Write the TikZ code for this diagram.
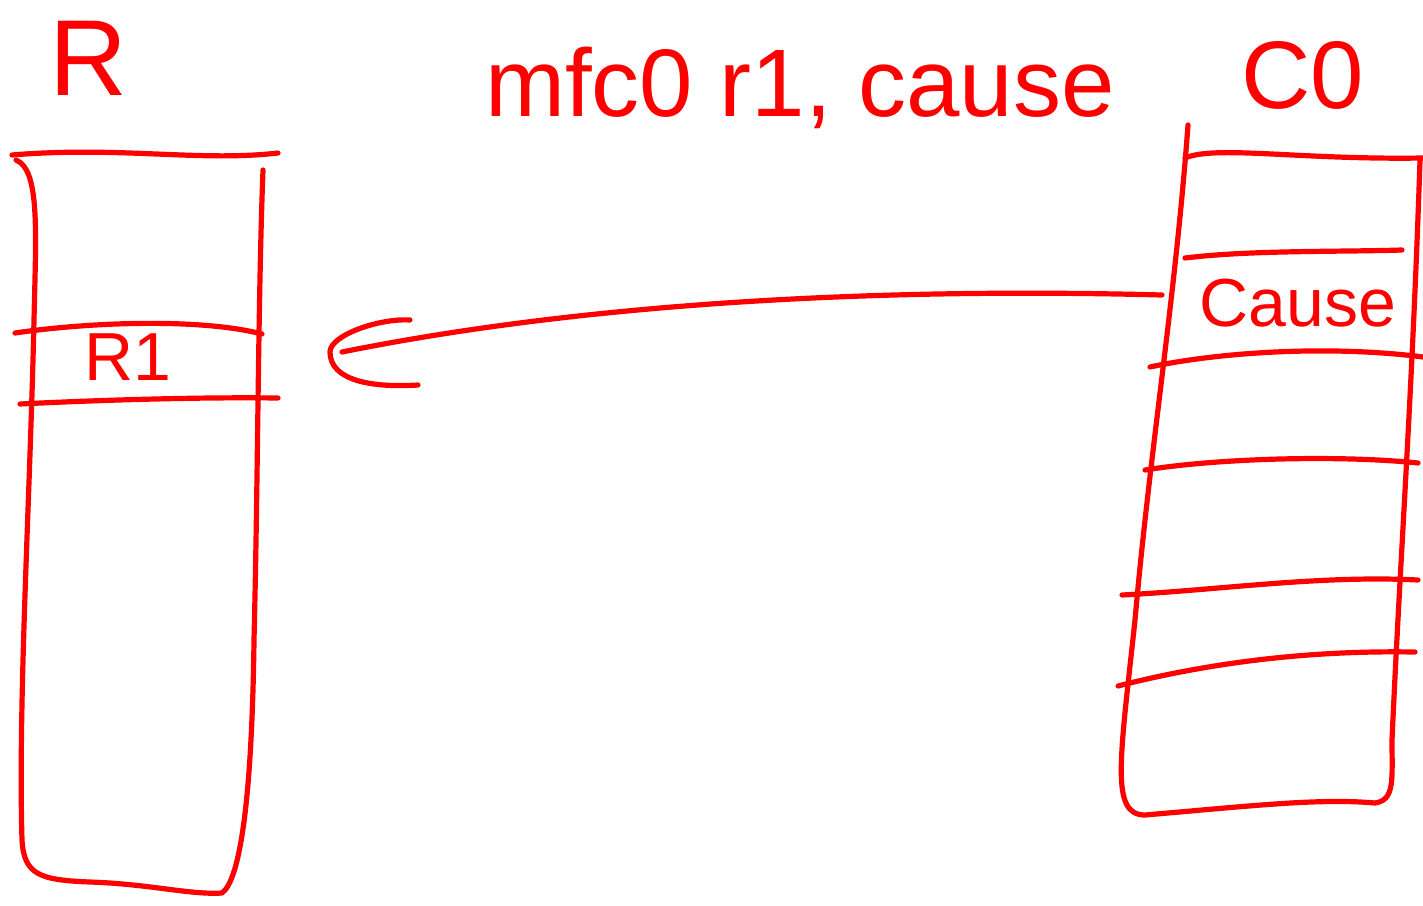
\documentclass[tikz,border=0pt]{standalone}
\usepackage{fontspec}
\setmainfont{Liberation Sans}
\usetikzlibrary{arrows.meta}
\definecolor{ink}{RGB}{255,0,0}
\begin{document}
\begin{tikzpicture}[x=0.5pt,y=-0.5pt,
  pen/.style={draw=ink,line width=2.6pt,line cap=round,line join=round},
  label/.style={text=ink,inner sep=0pt,font=\fontsize{#1}{#1}\selectfont},
  label/.default=34]
\useasboundingbox (0,0) rectangle (1423,905);

% register file R
\draw[pen] (12,155) .. controls (120,146) and (200,162) .. (278,153);
\draw[pen] (16,160) .. controls (40,170) and (36,230) .. (34,320)
  .. controls (30,500) and (18,700) .. (22,840)
  .. controls (24,875) and (40,880) .. (90,882)
  .. controls (150,884) and (190,895) .. (222,893)
  .. controls (240,880) and (252,800) .. (254,640)
  .. controls (258,480) and (258,300) .. (263,170);
\draw[pen] (15,333) .. controls (90,322) and (200,318) .. (262,334);
\draw[pen] (20,404) .. controls (100,400) and (200,397) .. (278,398);
\node[label=54] (R) at (88,58) {R};
\node[label=34] (R1) at (128,357) {R1};

% coprocessor 0 registers
\draw[pen] (1185,158) .. controls (1215,145) and (1300,160) .. (1423,158);
\draw[pen] (1188,125) .. controls (1175,300) and (1150,450) .. (1135,620)
  .. controls (1120,760) and (1110,815) .. (1145,815)
  .. controls (1250,806) and (1320,798) .. (1375,803)
  .. controls (1395,800) and (1392,780) .. (1392,740)
  .. controls (1400,560) and (1412,400) .. (1420,160);
\draw[pen] (1185,258) .. controls (1250,250) and (1340,252) .. (1402,250);
\draw[pen] (1150,367) .. controls (1220,352) and (1330,345) .. (1423,357);
\draw[pen] (1145,470) .. controls (1220,458) and (1340,455) .. (1418,463);
\draw[pen] (1122,595) .. controls (1220,590) and (1320,575) .. (1418,580);
\draw[pen] (1118,686) .. controls (1200,665) and (1300,650) .. (1415,652);
\node[label=48] (C0) at (1303,75) {C0};
\node[label=34] (cause) at (1298,303) {Cause};

% instruction
\node[label=48] (instr) at (800,88) {mfc0 r1, cause};

% data transfer from Cause into R1
\coordinate (src) at (1162,295);
\coordinate (dst) at (342,352);
\draw[pen] (src) .. controls (900,288) and (600,300) .. (dst);
\draw[pen] (410,320) .. controls (380,318) and (330,335) .. (330,352)
  .. controls (330,380) and (370,388) .. (418,385);
\end{tikzpicture}
\end{document}
